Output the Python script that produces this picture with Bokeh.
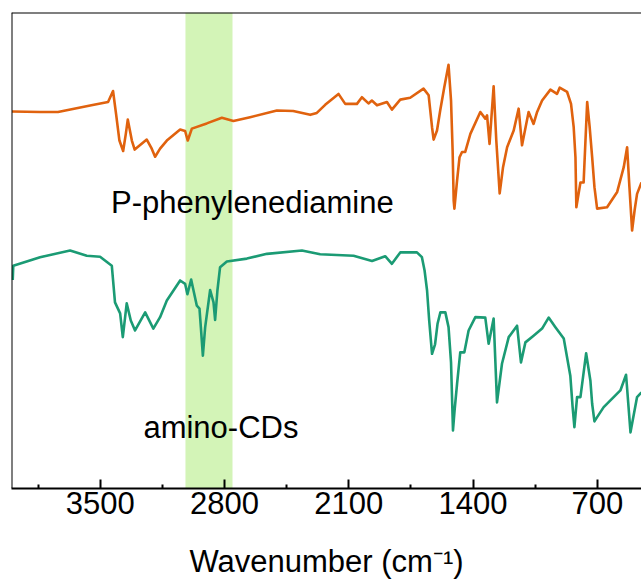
from bokeh.plotting import figure
from bokeh.models import Range1d, FixedTicker, BoxAnnotation, Span, ColumnDataSource
from bokeh.core.properties import value
from bokeh.embed import file_html
from bokeh.resources import INLINE

# ---- data (wavenumber in cm^-1, transmittance in arbitrary units) ----
wn_ppd = [3997, 3839, 3738, 3550, 3456, 3428, 3411, 3392, 3371, 3356, 3345, 3322, 3306, 3238,
          3210, 3191, 3163, 3125, 3050, 3022, 3007, 2984, 2900, 2815, 2750, 2656, 2505, 2413,
          2317, 2280, 2233, 2158, 2120, 2054, 2026, 1989, 1970, 1941, 1885, 1857, 1810, 1754,
          1679, 1650, 1631, 1622, 1603, 1585, 1562, 1538, 1524, 1515, 1509, 1505, 1490, 1476,
          1462, 1444, 1415, 1359, 1331, 1321, 1307, 1284, 1269, 1250, 1231, 1208, 1171, 1143,
          1124, 1087, 1059, 1039, 1011, 964, 927, 912, 870, 848, 833, 823, 818, 795, 777, 757,
          743, 729, 716, 701, 645, 588, 551, 532, 519, 504, 490, 476, 451]
t_ppd = [79.2, 79.1, 79.1, 80.5, 81.2, 83.5, 78.7, 73.1, 70.9, 74.5, 77.5, 73.1, 71.2, 73.3,
         71.4, 69.7, 71.4, 73.1, 75.4, 75.1, 73.1, 75.6, 76.7, 77.9, 77.2, 78.0, 79.4, 79.3,
         78.5, 78.9, 80.6, 82.9, 80.8, 80.8, 82.2, 80.9, 81.5, 80.5, 81.2, 79.6, 81.7, 82.1,
         84.0, 82.6, 75.9, 73.3, 75.2, 79.4, 84.3, 89.0, 81.5, 71.0, 60.5, 58.8, 64.7, 69.6,
         70.7, 70.7, 74.5, 79.1, 77.7, 78.4, 72.4, 84.5, 73.1, 62.0, 67.5, 71.7, 75.2, 79.8,
         72.1, 79.1, 76.6, 79.1, 81.5, 83.8, 82.9, 84.2, 83.3, 80.8, 75.9, 69.6, 59.1, 64.3, 64.3, 81.2,
         75.9, 69.6, 63.3, 58.8, 59.1, 62.3, 67.5, 71.7, 63.3, 54.2, 58.4, 61.9, 64.3]

wn_cd = [3993, 3990, 3839, 3670, 3576, 3501, 3435, 3417, 3388, 3373, 3351, 3328, 3304, 3247,
         3201, 3163, 3125, 3050, 3022, 3009, 2988, 2956, 2941, 2932, 2922, 2909, 2881, 2862,
         2853, 2840, 2825, 2787, 2674, 2561, 2364, 2261, 2073, 1969, 1895, 1857, 1810, 1716,
         1688, 1673, 1659, 1647, 1631, 1614, 1600, 1584, 1556, 1538, 1524, 1513, 1504, 1490,
         1472, 1449, 1425, 1387, 1331, 1312, 1284, 1265, 1237, 1199, 1152, 1130, 1105, 1059,
         1011, 974, 936, 889, 852, 839, 829, 814, 795, 763, 739, 729, 716, 701, 664, 570, 538,
         513, 476, 451]
t_cd = [43.8, 46.8, 48.6, 50.0, 48.9, 48.7, 46.8, 39.1, 36.8, 31.8, 38.9, 35.3, 33.2, 37.0,
        33.6, 36.0, 39.5, 43.7, 43.0, 40.8, 43.9, 38.4, 37.8, 33.2, 27.9, 33.9, 41.7, 39.1,
        35.4, 41.6, 46.5, 47.7, 48.3, 49.3, 50.0, 49.2, 48.9, 47.8, 48.8, 47.2, 49.6, 49.6,
        48.6, 45.8, 41.6, 35.3, 28.3, 30.3, 34.6, 37.0, 37.0, 33.9, 26.5, 12.2, 16.4, 22.0,
        28.6, 28.6, 33.2, 36.0, 35.9, 30.4, 35.7, 18.1, 26.2, 31.8, 34.2, 26.5, 30.7, 32.1,
        33.6, 35.9, 33.9, 31.5, 23.7, 17.1, 12.9, 19.2, 19.2, 28.4, 22.7, 17.8, 14.1, 15.0, 17.1, 20.6, 23.9,
        11.8, 19.2, 20.2]

major_ticks = [3500, 2800, 2100, 1400, 700]
minor_ticks = [3850, 3150, 2450, 1750, 1050]
band = [3020, 2755]
labels = ["P-phenylenediamine", "amino-CDs"]
label_x = [3439, 3257]
label_y = [60.1, 12.9]

FONT = "Liberation Sans"
FS = "31px"

p = figure(width=641, height=581, output_backend="svg", toolbar_location=None,
           x_range=Range1d(4000, 451), y_range=Range1d(0, 100),
           min_border_left=11, min_border_top=12, min_border_right=0, min_border_bottom=20)
p.outline_line_color = None
p.grid.visible = False
p.yaxis.visible = False
p.background_fill_color = "white"
p.border_fill_color = "white"

p.add_layout(BoxAnnotation(left=band[1], right=band[0], fill_color="#d3f4b7", fill_alpha=1.0,
                           line_color=None, level="underlay"))

p.line(wn_ppd, t_ppd, line_color="#e0620e", line_width=2.6, line_join="round")
p.line(wn_cd, t_cd, line_color="#1b9b74", line_width=2.6, line_join="round")

src = ColumnDataSource(dict(x=label_x, y=label_y, t=labels))
p.text(x="x", y="y", text="t", source=src, text_font=value(FONT), text_font_size=FS,
       text_color="black", text_baseline="alphabetic", text_align="left")

# frame borders (left and top)
p.add_layout(Span(location=4000, dimension="height", line_color="black", line_width=2))
p.add_layout(Span(location=100, dimension="width", line_color="black", line_width=2))

ax = p.xaxis[0]
ax.ticker = FixedTicker(ticks=major_ticks, minor_ticks=minor_ticks)
ax.axis_line_width = 2
ax.axis_line_color = "black"
ax.major_tick_line_width = 2
ax.minor_tick_line_width = 2
ax.major_tick_in = 9
ax.major_tick_out = 0
ax.minor_tick_in = 4
ax.minor_tick_out = 0
ax.major_label_text_font = FONT
ax.major_label_text_font_size = FS
ax.major_label_text_color = "black"
ax.major_label_standoff = 3
ax.axis_label = "Wavenumber (cm\u207b\u00b9)"
ax.axis_label_text_font = FONT
ax.axis_label_text_font_size = FS
ax.axis_label_text_font_style = "normal"
ax.axis_label_text_color = "black"
ax.axis_label_standoff = 27

open("out.html", "w").write(file_html(p, INLINE))
